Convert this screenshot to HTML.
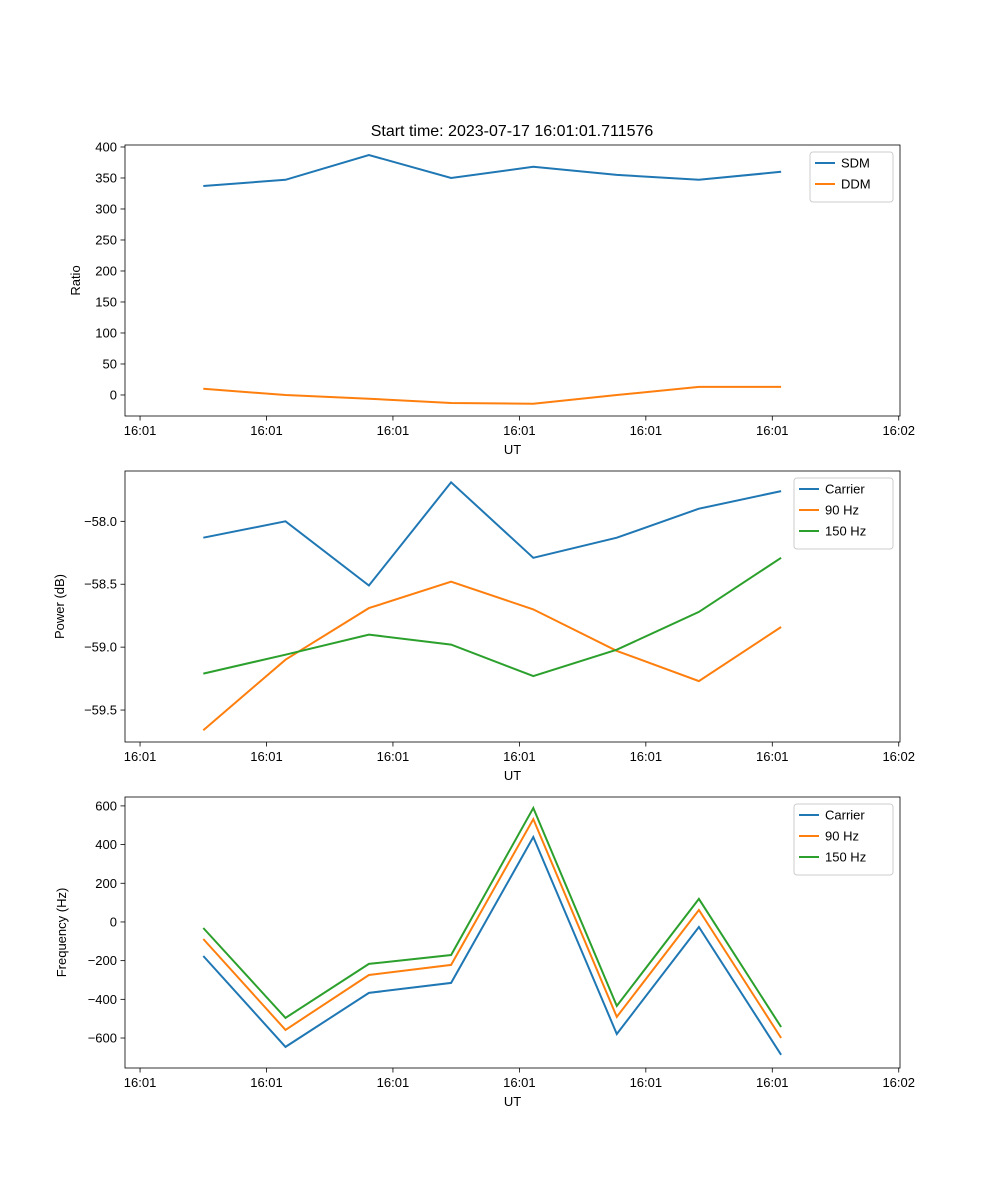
<!DOCTYPE html>
<html><head><meta charset="utf-8"><style>
body{margin:0;background:#fff}
svg{display:block;font-family:"Liberation Sans","DejaVu Sans",sans-serif}
</style></head><body>
<svg id="fig" width="1000" height="1200" viewBox="0 0 1000 1200" xmlns="http://www.w3.org/2000/svg"></svg>
<script>
const times = [5.0, 11.5, 18.1, 24.6, 31.1, 37.7, 44.2, 50.7];
const xTicks = [0, 10, 20, 30, 40, 50, 60];
const xTickLabels = ["16:01","16:01","16:01","16:01","16:01","16:01","16:02"];
const sdm = [337, 347, 387, 350, 368, 355, 347, 360];
const ddm = [10, 0, -6, -13, -14, 0, 13, 13];
const powCarrier = [-58.13, -58.0, -58.51, -57.69, -58.29, -58.13, -57.90, -57.76];
const pow90 = [-59.66, -59.10, -58.69, -58.48, -58.70, -59.03, -59.27, -58.84];
const pow150 = [-59.21, -59.06, -58.90, -58.98, -59.23, -59.02, -58.72, -58.29];
const freqCarrier = [-176, -646, -367, -315, 439, -579, -26, -687];
const freq90 = [-88, -558, -274, -222, 532, -491, 62, -600];
const freq150 = [-31, -496, -217, -171, 589, -434, 119, -543];
const ratioTicks = [0, 50, 100, 150, 200, 250, 300, 350, 400];
const powTicks = [-59.5, -59.0, -58.5, -58.0];
const freqTicks = [-600, -400, -200, 0, 200, 400, 600];

const NS = "http://www.w3.org/2000/svg";
const svg = document.getElementById('fig');
function el(tag, attrs, parent, text){
  const e = document.createElementNS(NS, tag);
  for (const k in attrs) e.setAttribute(k, attrs[k]);
  if (text !== undefined) e.textContent = text;
  (parent || svg).appendChild(e);
  return e;
}
const L = 125, R = 900, X0 = -1.19, X1 = 60.1;
const sx = v => L + (v - X0) / (X1 - X0) * (R - L);
const minus = s => String(s).replace('-', '\u2212');

function panel(name, top, bottom, y0, y1, yTicks, fmt, ylabel, series, legend){
  const g = el('g', {});
  
  
  const sy = v => bottom - (v - y0) / (y1 - y0) * (bottom - top);
  series.forEach(s => {
    const p = el('polyline', {points: s.vals.map((v,i)=>sx(times[i]).toFixed(1)+','+sy(v).toFixed(1)).join(' '), fill:'none', stroke:s.color, 'stroke-width':2}, g);
    
    
  });
  const frame = el('rect', {x:L, y:top, width:R-L, height:bottom-top, fill:'none', stroke:'#000', 'stroke-width':0.8}, g);
  
  
  xTicks.forEach((t,i) => {
    const x = sx(t);
    el('line', {x1:x, x2:x, y1:bottom, y2:bottom+4.5, stroke:'#000', 'stroke-width':0.8}, g);
    const tx = el('text', {x:x, y:bottom+19, 'font-size':13, 'text-anchor':'middle'}, g, xTickLabels[i]);
    
    
  });
  yTicks.forEach(t => {
    const y = sy(t);
    el('line', {x1:L-4.5, x2:L, y1:y, y2:y, stroke:'#000', 'stroke-width':0.8}, g);
    const ty = el('text', {x:L-8, y:y+4.5, 'font-size':13, 'text-anchor':'end'}, g, minus(fmt(t)));
    
    
  });
  const xl = el('text', {x:(L+R)/2, y:bottom+38, 'font-size':13, 'text-anchor':'middle'}, g, 'UT');
  
  
  const yl = el('text', {x:0, y:0, 'font-size':13, 'text-anchor':'middle', transform:`translate(${legend.ylx},${(top+bottom)/2}) rotate(-90)`}, g, ylabel);
  
  
  const lg = el('g', {}, g);
  
  
  const h = 8 + series.length * 21;
  el('rect', {x:legend.x, y:top+7, width:legend.w, height:h, rx:3, fill:'#fff', 'fill-opacity':0.8, stroke:'#ccc'}, lg);
  series.forEach((s,i) => {
    const y = top + 18 + i*21;
    el('line', {x1:legend.x+5, x2:legend.x+25, y1:y, y2:y, stroke:s.color, 'stroke-width':2}, lg);
    const t = el('text', {x:legend.x+31, y:y+4.5, 'font-size':13}, lg, s.label);
    
    
  });
}
const title = el('text', {x:512, y:136, 'font-size':16, 'text-anchor':'middle'}, svg, 'Start time: 2023-07-17 16:01:01.711576');



panel('ratio-panel', 145, 416, -33.9, 403.2, ratioTicks, v=>String(v), 'Ratio',
  [{id:'sdm-line', label:'SDM', color:'#1f77b4', vals:sdm},{id:'ddm-line', label:'DDM', color:'#ff7f0e', vals:ddm}],
  {x:810, w:83, ylx:80});
panel('power-panel', 471, 742, -59.754, -57.60, powTicks, v=>v.toFixed(1), 'Power (dB)',
  [{id:'power-carrier-line', label:'Carrier', color:'#1f77b4', vals:powCarrier},{id:'power-90hz-line', label:'90 Hz', color:'#ff7f0e', vals:pow90},{id:'power-150hz-line', label:'150 Hz', color:'#2ca02c', vals:pow150}],
  {x:794, w:99, ylx:64});
panel('frequency-panel', 797, 1068, -755, 646, freqTicks, v=>String(v), 'Frequency (Hz)',
  [{id:'freq-carrier-line', label:'Carrier', color:'#1f77b4', vals:freqCarrier},{id:'freq-90hz-line', label:'90 Hz', color:'#ff7f0e', vals:freq90},{id:'freq-150hz-line', label:'150 Hz', color:'#2ca02c', vals:freq150}],
  {x:794, w:99, ylx:66});
</script>
</body></html>
